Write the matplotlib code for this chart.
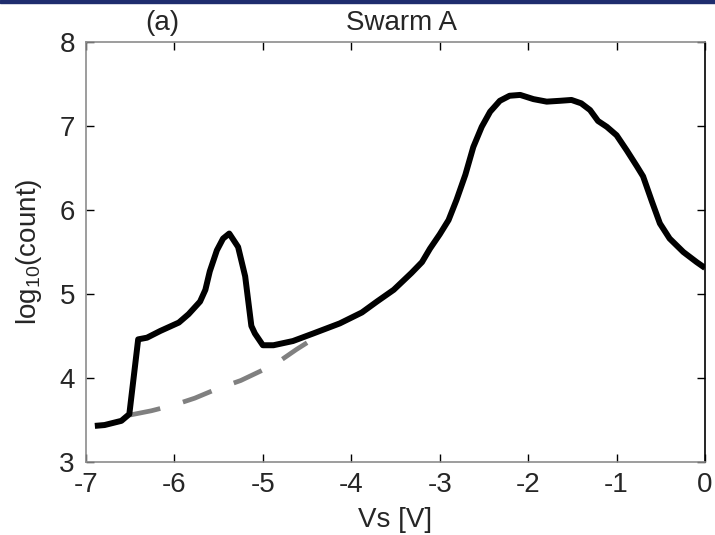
import matplotlib
matplotlib.use("Agg")
import matplotlib.pyplot as plt
from matplotlib.patches import Rectangle

# measured curve (Vs in volts, log10 of count)
vs = [-6.90, -6.79, -6.60, -6.51, -6.41, -6.31, -6.16, -5.95, -5.84, -5.71,
      -5.65, -5.60, -5.52, -5.45, -5.38, -5.28, -5.20, -5.13, -5.09, -5.00,
      -4.88, -4.66, -4.43, -4.13, -3.88, -3.71, -3.52, -3.32, -3.20, -3.11,
      -3.00, -2.90, -2.81, -2.71, -2.62, -2.525, -2.43, -2.32, -2.21, -2.09,
      -1.94, -1.79, -1.64, -1.51, -1.40, -1.30, -1.21, -1.11, -1.00, -0.885,
      -0.77, -0.70, -0.60, -0.51, -0.40, -0.245, -0.095, 0.0]
log_count = [3.43, 3.44, 3.49, 3.57, 4.46, 4.48, 4.56, 4.66, 4.76, 4.91,
             5.05, 5.27, 5.52, 5.66, 5.72, 5.56, 5.21, 4.62, 4.53, 4.39,
             4.39, 4.44, 4.53, 4.65, 4.78, 4.91, 5.05, 5.25, 5.38, 5.54,
             5.71, 5.88, 6.12, 6.42, 6.75, 6.99, 7.17, 7.30, 7.36, 7.37,
             7.32, 7.29, 7.30, 7.31, 7.27, 7.19, 7.06, 6.99, 6.89, 6.71,
             6.52, 6.40, 6.10, 5.84, 5.66, 5.50, 5.38, 5.31]

# background fit (dashed)
vs_bg = [-6.50, -6.26, -6.00, -5.77, -5.52, -5.25, -5.03, -4.84, -4.62, -4.50]
log_bg = [3.56, 3.61, 3.68, 3.76, 3.87, 3.97, 4.08, 4.18, 4.34, 4.42]

x_ticks = [-7, -6, -5, -4, -3, -2, -1, 0]
y_ticks = [3, 4, 5, 6, 7, 8]

txt = '#262626'
fs = 20
plt.rcParams['font.family'] = ['Liberation Sans', 'DejaVu Sans']
plt.rcParams['axes.unicode_minus'] = False
plt.rcParams['mathtext.fontset'] = 'custom'
plt.rcParams['mathtext.rm'] = 'Liberation Sans'
plt.rcParams['mathtext.it'] = 'Liberation Sans'

fig = plt.figure(figsize=(7.15, 5.35), dpi=100)
ax = fig.add_axes([86 / 715, 1 - 462 / 535, 619 / 715, 420 / 535])

ax.plot(vs, log_count, color='black', lw=4.3, solid_joinstyle='round',
        solid_capstyle='butt', zorder=3)
ax.plot(vs_bg, log_bg, color='#808080', lw=3.4, dashes=(6.5, 5.0), zorder=2)

ax.set_xlim(-7, 0)
ax.set_ylim(3, 8)
ax.set_xticks(x_ticks)
ax.set_yticks(y_ticks)
ax.tick_params(direction='in', length=6, width=1, color='black',
               labelsize=fs, labelcolor=txt, top=True, right=True)
ax.tick_params(axis='x', pad=7)
ax.tick_params(axis='y', pad=8)

for side in ['left', 'bottom', 'top']:
    ax.spines[side].set_color('#8c8c8c')
    ax.spines[side].set_linewidth(1.2)
ax.spines['right'].set_color('black')
ax.spines['right'].set_linewidth(1.2)

ax.set_xlabel('Vs [V]', fontsize=fs, color=txt, labelpad=7)
ax.set_ylabel(r'log$_{\mathrm{10}}$(count)', fontsize=fs, color=txt,
              labelpad=11)

ax.text(0.123, 1.045, '(a)', transform=ax.transAxes, ha='center',
        va='center', fontsize=fs, color=txt)
ax.text(0.509, 1.045, 'Swarm A', transform=ax.transAxes, ha='center',
        va='center', fontsize=fs, color=txt)

# thin navy band along the top edge
fig.patches.append(Rectangle((0, 1 - 2.5 / 535), 1, 2.5 / 535,
                             transform=fig.transFigure, color='#1f2d6e'))

fig.savefig('out.png', dpi=100)
